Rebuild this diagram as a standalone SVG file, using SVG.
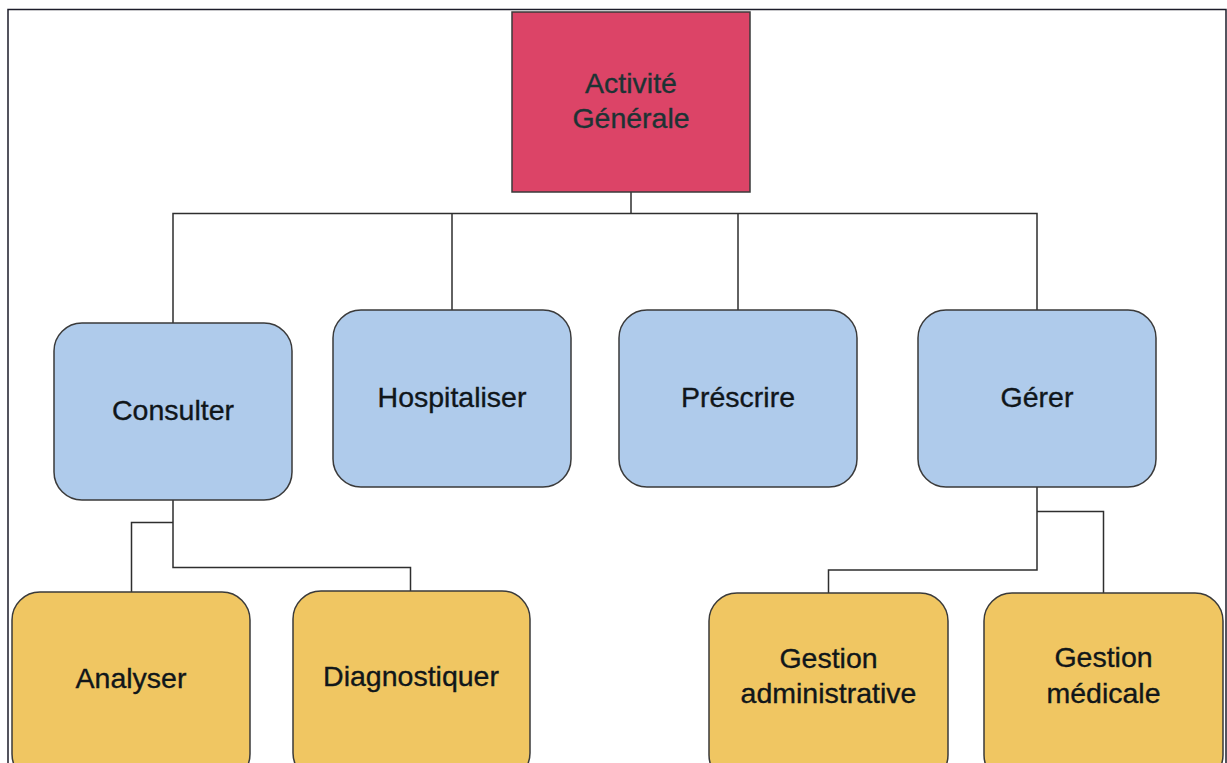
<svg xmlns="http://www.w3.org/2000/svg" width="1227" height="763" viewBox="0 0 1227 763">
  <style>
    .frame { fill: #ffffff; stroke: #1c1c2a; stroke-width: 1.5; }
    .link { fill: none; stroke: #2e2e2e; stroke-width: 1.5; }
    .root { fill: #dc4467; stroke: #3a3a3a; stroke-width: 1.5; }
    .task { fill: #afcbeb; stroke: #3a3a3a; stroke-width: 1.5; }
    .sub { fill: #f0c662; stroke: #3a3a3a; stroke-width: 1.5; }
    text { font-family: "Liberation Sans", Arial, sans-serif; font-size: 28.5px; fill: #10161a; stroke: #10161a; stroke-width: 0.35; text-anchor: middle; }
    .root-label { fill: #1c3334; stroke: #1c3334; }
  </style>

  <rect class="frame" x="8" y="9.5" width="1218" height="770"/>

  <g id="connectors">
    <path class="link" d="M631 192 V213.5"/>
    <path class="link" d="M173 323 V213.5 H1037 V310"/>
    <path class="link" d="M452 213.5 V310"/>
    <path class="link" d="M738 213.5 V310"/>
    <path class="link" d="M173 500 V567.5 H410.5 V591"/>
    <path class="link" d="M173 522.5 H131.5 V592"/>
    <path class="link" d="M1037 487 V570 H828.5 V593"/>
    <path class="link" d="M1037 511.5 H1103.5 V593"/>
  </g>

  <g id="activite-generale">
    <rect class="root" x="512" y="12" width="238" height="180"/>
    <text class="root-label" x="631" y="93">Activité</text>
    <text class="root-label" x="631" y="128">Générale</text>
  </g>

  <g id="consulter">
    <rect class="task" x="54" y="323" width="238" height="177" rx="28"/>
    <text x="173" y="420">Consulter</text>
  </g>

  <g id="hospitaliser">
    <rect class="task" x="333" y="310" width="238" height="177" rx="28"/>
    <text x="452" y="407">Hospitaliser</text>
  </g>

  <g id="prescrire">
    <rect class="task" x="619" y="310" width="238" height="177" rx="28"/>
    <text x="738" y="407">Préscrire</text>
  </g>

  <g id="gerer">
    <rect class="task" x="918" y="310" width="238" height="177" rx="28"/>
    <text x="1037" y="407">Gérer</text>
  </g>

  <g id="analyser">
    <rect class="sub" x="12" y="592" width="238" height="190" rx="28"/>
    <text x="131" y="688">Analyser</text>
  </g>

  <g id="diagnostiquer">
    <rect class="sub" x="293" y="591" width="237" height="190" rx="28"/>
    <text x="411" y="686">Diagnostiquer</text>
  </g>

  <g id="gestion-administrative">
    <rect class="sub" x="709" y="593" width="239" height="190" rx="28"/>
    <text x="828.5" y="668">Gestion</text>
    <text x="828.5" y="703">administrative</text>
  </g>

  <g id="gestion-medicale">
    <rect class="sub" x="984" y="593" width="239" height="190" rx="28"/>
    <text x="1103.5" y="667">Gestion</text>
    <text x="1103.5" y="703">médicale</text>
  </g>
</svg>
